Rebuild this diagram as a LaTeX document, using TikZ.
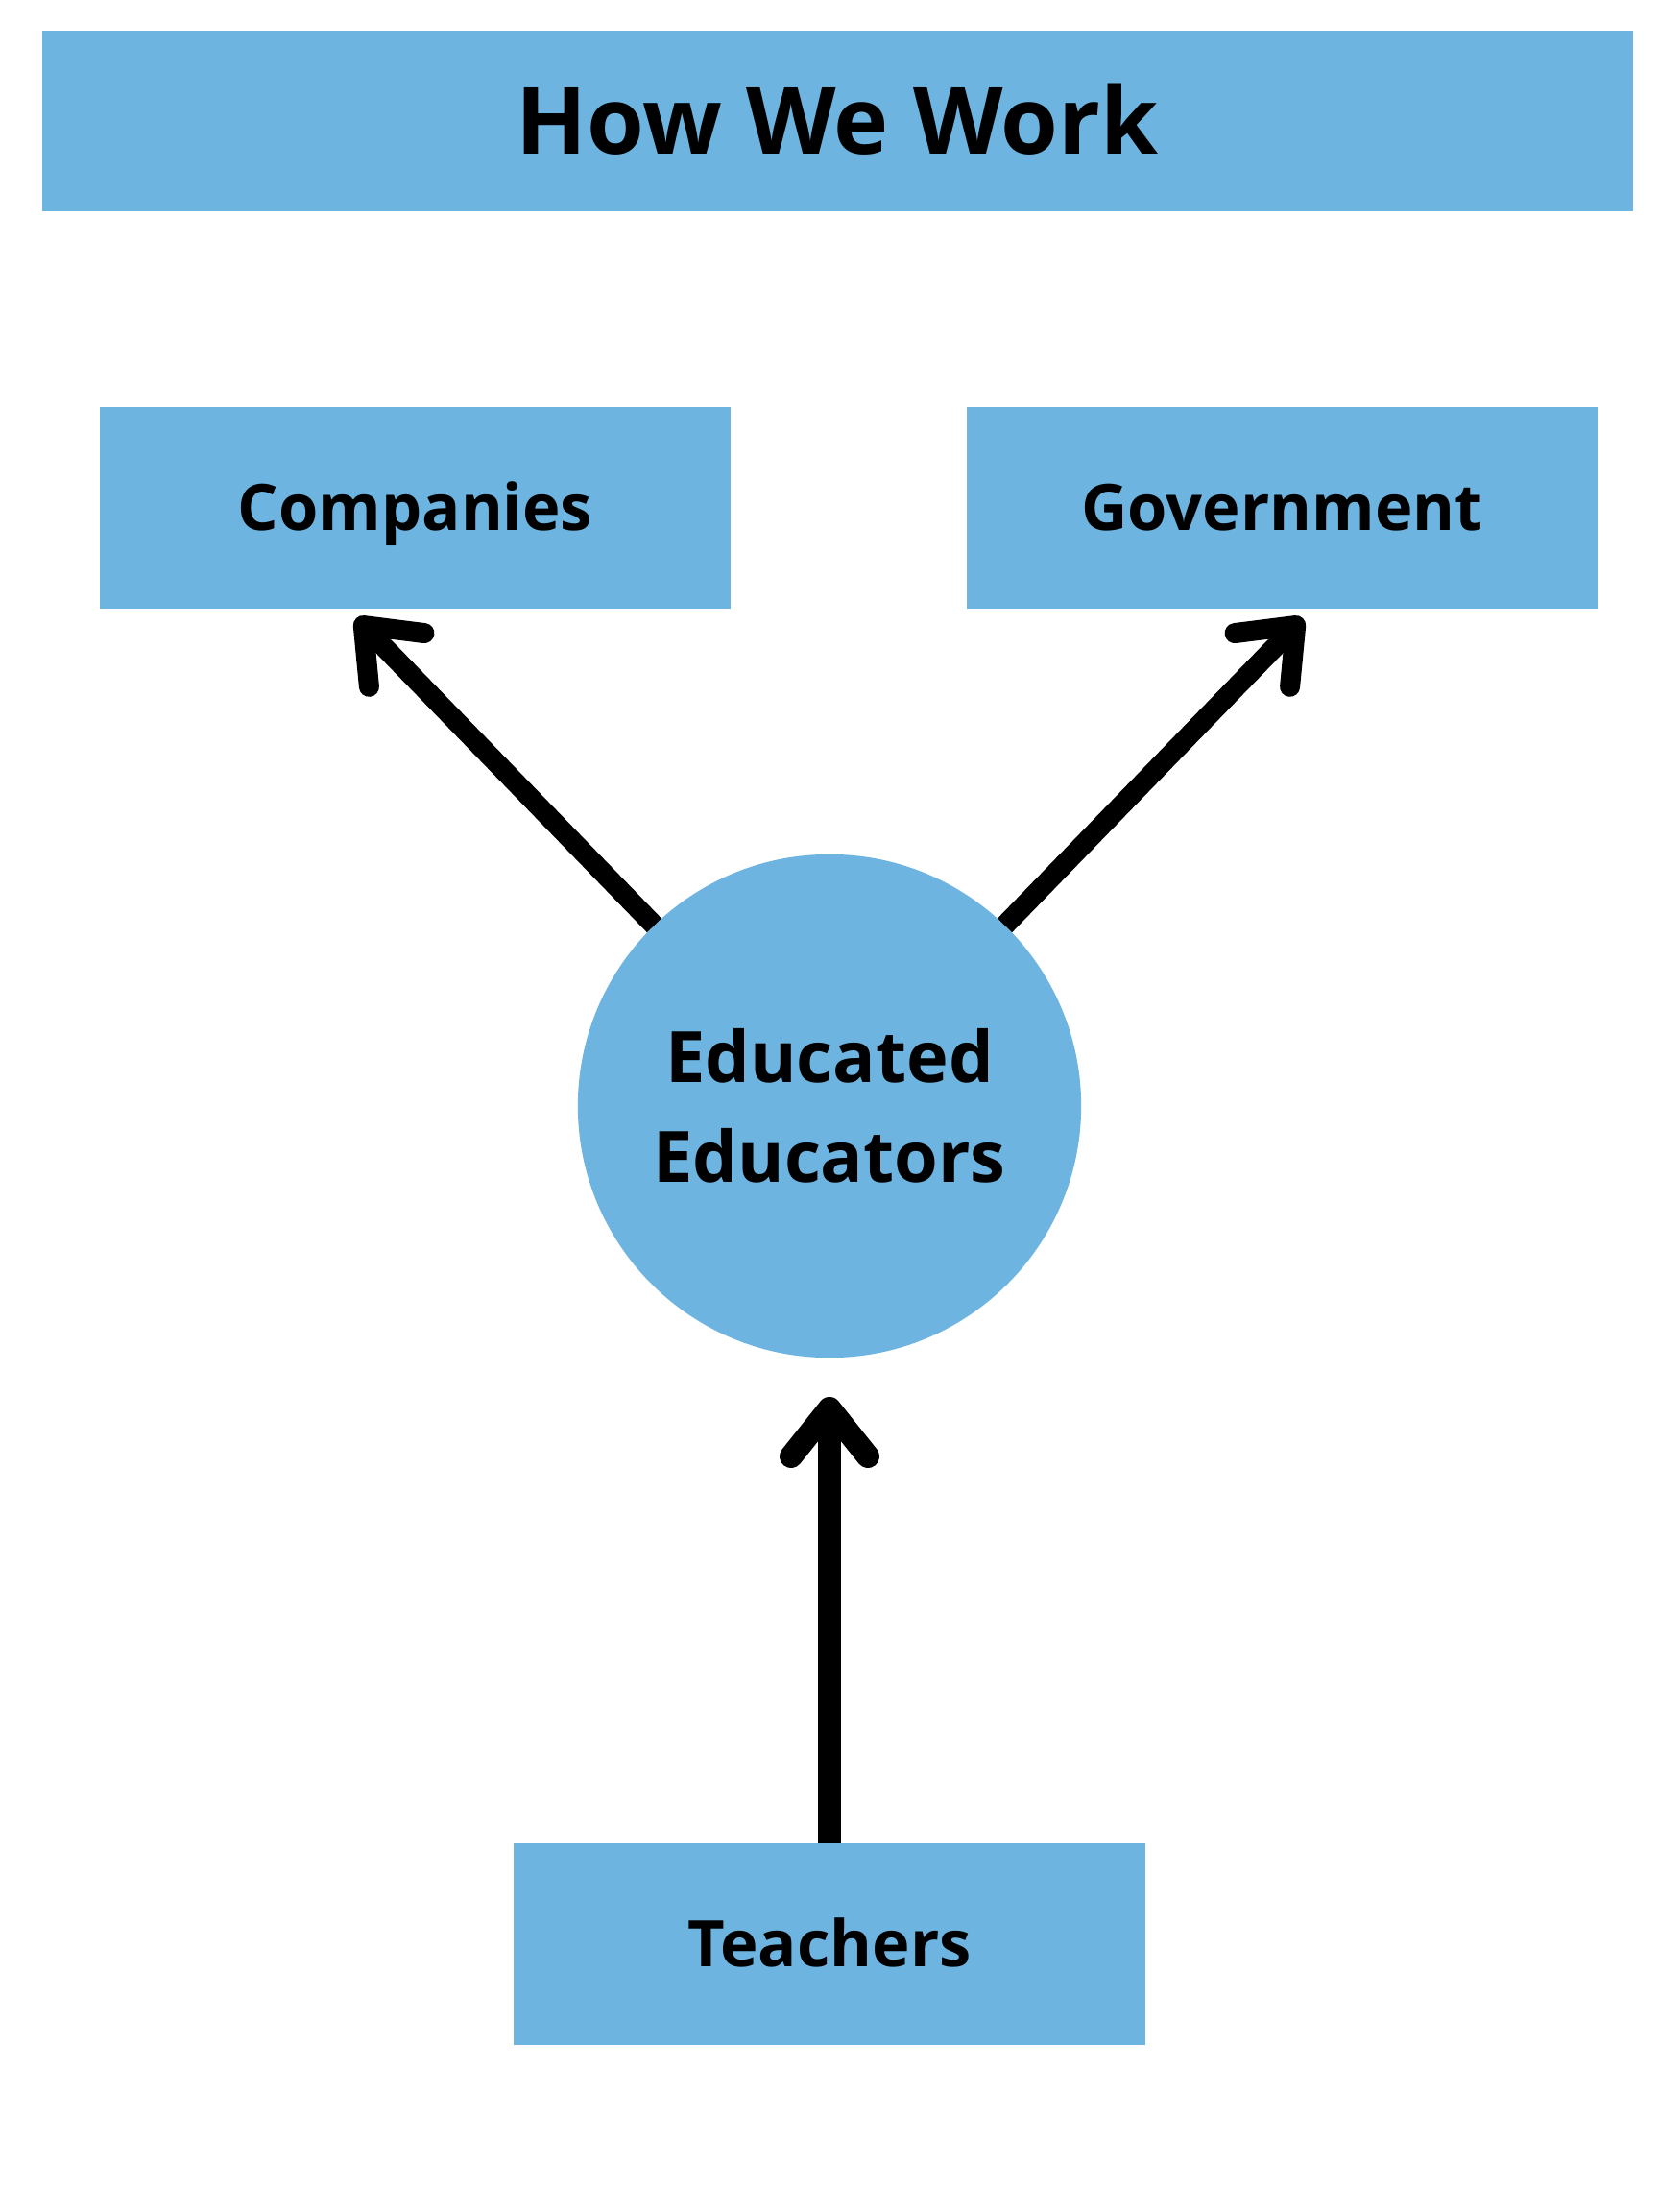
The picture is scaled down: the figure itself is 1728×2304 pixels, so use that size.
\documentclass[tikz,border=0pt]{standalone}
\usepackage{fontspec}
\setmainfont{Open Sans}
\usepackage{tikz}
\usetikzlibrary{arrows.meta,positioning}
\usepackage{xcolor}
\definecolor{boxblue}{HTML}{6DB5E0}

\begin{document}
\begin{tikzpicture}[
    x=0.01cm, y=-0.01cm,
    block/.style={rectangle, fill=boxblue, inner sep=0pt, outer sep=0pt, minimum width=6.57cm, minimum height=2.09cm, text height=13.6pt, text depth=0pt, font=\fontsize{19}{23}\selectfont\bfseries},
    hub/.style={circle, fill=boxblue, inner sep=0pt, outer sep=0pt, minimum size=5.24cm, align=center, font=\fontsize{21}{29.6}\selectfont\bfseries},
    flow/.style={line width=0.21cm, -{Straight Barb[length=0.5cm, width=0.8cm, round]}}
]
    \useasboundingbox (0,0) rectangle (1728,2304);

    \node[block, minimum width=16.56cm, minimum height=1.88cm, text height=19.6pt, font=\fontsize{27.5}{33}\selectfont\bfseries] (title) at (872,126) {How We Work};

    \node[block] (comp) at (432.5,529) {Companies};
    \node[block] (gov) at (1335.5,529) {Government};
    \node[hub] (edu) at (864,1152) {Educated\\Educators};
    \node[block] (teach) at (864,2025) {Teachers};

    \coordinate (comptip) at (371,644);
    \coordinate (govtip) at (1357,644);
    \coordinate (edutip) at (864,1455);

    \draw[flow] (edu) -- (comptip);
    \draw[flow] (edu) -- (govtip);
    \draw[flow, line width=0.24cm] (teach.north) -- (edutip);
\end{tikzpicture}
\end{document}
